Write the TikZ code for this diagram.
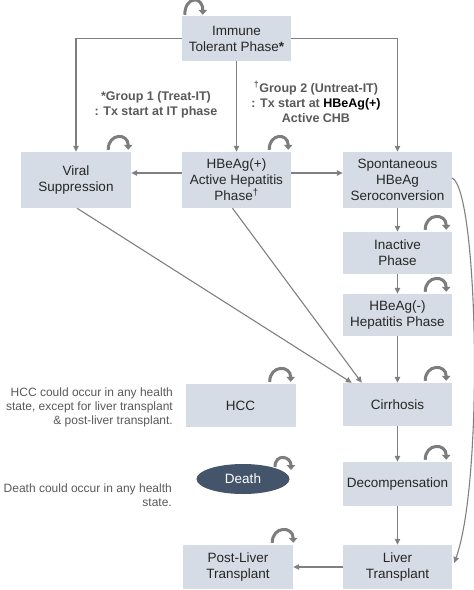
\documentclass[tikz,border=0pt]{standalone}
\usepackage{fontspec}
\setmainfont{Liberation Sans}
\usetikzlibrary{arrows.meta,shapes.geometric,calc}
\definecolor{boxfill}{RGB}{214,220,229}
\definecolor{deathfill}{RGB}{68,84,106}
\definecolor{conncol}{RGB}{128,128,128}
\definecolor{loopcol}{RGB}{125,125,125}
\definecolor{txt}{RGB}{38,38,38}
\definecolor{note}{RGB}{89,89,89}
\begin{document}
\begin{tikzpicture}[x=1pt,y=-1pt,
  state/.style={fill=boxfill, draw=none, text=txt, align=center, font=\fontsize{13.5}{16}\selectfont, inner sep=0pt},
  conn/.style={draw=conncol, line width=1.1pt, -{Triangle[length=6pt,width=5.5pt]}},
  selfloop/.style={draw=loopcol, line width=3pt, -{Triangle[length=5pt,width=8.5pt]}},
  notetext/.style={text=note, align=right, font=\fontsize{12}{14}\selectfont, anchor=east, inner sep=0pt},
  grouptext/.style={text=note, align=center, font=\bfseries\fontsize{12.5}{15}\selectfont, inner sep=0pt}]

\useasboundingbox (0,0) rectangle (474,590);

% states
\node[state, minimum width=109pt, minimum height=45pt] (imm) at (236.5,38.5) {Immune\\Tolerant Phase\textbf{*}};
\node[state, minimum width=110pt, minimum height=56pt] (vir) at (76,180) {Viral\\Suppression};
\node[state, minimum width=109pt, minimum height=56pt] (hbp) at (236.5,180) {HBeAg(+)\\Active Hepatitis\\Phase\textsuperscript{†}};
\node[state, minimum width=109pt, minimum height=56pt] (spo) at (397.5,180) {Spontaneous\\HBeAg\\Seroconversion};
\node[state, minimum width=109pt, minimum height=42pt] (ina) at (397.5,253) {Inactive\\Phase};
\node[state, minimum width=109pt, minimum height=42pt] (hbn) at (397.5,315) {HBeAg(-)\\Hepatitis Phase};
\node[state, minimum width=109pt, minimum height=43pt] (cir) at (397.5,404.5) {Cirrhosis};
\node[state, minimum width=109pt, minimum height=44pt] (dec) at (397.5,484) {Decompensation};
\node[state, minimum width=109pt, minimum height=44pt] (lt) at (397.5,567) {Liver\\Transplant};
\node[state, minimum width=110pt, minimum height=44pt] (plt) at (238,567) {Post-Liver\\Transplant};
\node[state, minimum width=110pt, minimum height=43pt] (hcc) at (240.5,405.5) {HCC};
\node[ellipse, fill=deathfill, text=white, minimum width=93pt, minimum height=30pt, inner sep=0pt, font=\fontsize{13.5}{16}\selectfont] (death) at (243,479) {Death};

% notes
\node[grouptext] (g1) at (156,105) {*Group 1 (Treat-IT)\\: Tx start at IT phase};
\node[grouptext] (g2) at (316,102) {\textsuperscript{†}Group 2 (Untreat-IT)\\: Tx start at \textcolor{black}{HBeAg(+)}\\Active CHB};
\node[notetext] (hccnote) at (173,407) {HCC could occur in any health\\state, except for liver transplant\\\& post-liver transplant.};
\node[notetext] (deathnote) at (172,495) {Death could occur in any health\\state.};

% connectors
\draw[conn] (imm.west) -| (vir.north);
\draw[conn] (imm.south) -- (hbp.north);
\draw[conn] (imm.east) -| (spo.north);
\draw[conn] ([yshift=7pt]hbp.west) -- ([yshift=7pt]vir.east);
\draw[conn] ([yshift=7pt]hbp.east) -- ([yshift=7pt]spo.west);
\draw[conn] (spo.south) -- (ina.north);
\draw[conn] (ina.south) -- (hbn.north);
\draw[conn] (hbn.south) -- (cir.north);
\draw[conn] (cir.south) -- (dec.north);
\draw[conn] (dec.south) -- (lt.north);
\draw[conn] (lt.west) -- (plt.east);
\draw[conn] ([xshift=1pt]vir.south) -- ([xshift=9pt]cir.north west);
\draw[conn] ([xshift=-4pt]hbp.south) -- ([xshift=19pt]cir.north west);
\draw[conn] ([yshift=2pt]spo.east) .. controls (478,190) and (484,480) .. ([xshift=2pt,yshift=4pt]lt.east);

% self loops
\draw[selfloop] ([xshift=3pt,yshift=1pt]imm.north west) .. controls +(0,-19) and +(0,-19) .. ([xshift=21pt,yshift=1pt]imm.north west);
\draw[selfloop] ([xshift=-23pt,yshift=2pt]vir.north east) .. controls +(0,-17) and +(0,-17) .. ([xshift=-3pt,yshift=2pt]vir.north east);
\draw[selfloop] ([xshift=-22pt,yshift=2pt]hbp.north east) .. controls +(0,-17) and +(0,-17) .. ([xshift=-3pt,yshift=2pt]hbp.north east);
\draw[selfloop] ([xshift=-27pt,yshift=2pt]ina.north east) .. controls +(0,-17) and +(0,-17) .. ([xshift=-6pt,yshift=2pt]ina.north east);
\draw[selfloop] ([xshift=-27pt,yshift=2pt]hbn.north east) .. controls +(0,-17) and +(0,-17) .. ([xshift=-6pt,yshift=2pt]hbn.north east);
\draw[selfloop] ([xshift=-27pt,yshift=2pt]cir.north east) .. controls +(0,-17) and +(0,-17) .. ([xshift=-6pt,yshift=2pt]cir.north east);
\draw[selfloop] ([xshift=-27pt,yshift=2pt]dec.north east) .. controls +(0,-17) and +(0,-17) .. ([xshift=-6pt,yshift=2pt]dec.north east);
\draw[selfloop] ([xshift=-26pt,yshift=2pt]hcc.north east) .. controls +(0,-17) and +(0,-17) .. ([xshift=-5pt,yshift=2pt]hcc.north east);
\draw[selfloop] ([xshift=-21pt,yshift=2pt]plt.north east) .. controls +(0,-17) and +(0,-17) .. ([xshift=0pt,yshift=2pt]plt.north east);
\draw[selfloop] ([xshift=32pt,yshift=12pt]death.center) .. controls +(0,-14) and +(0,-14) .. ([xshift=48pt,yshift=9pt]death.center);
\end{tikzpicture}
\end{document}
